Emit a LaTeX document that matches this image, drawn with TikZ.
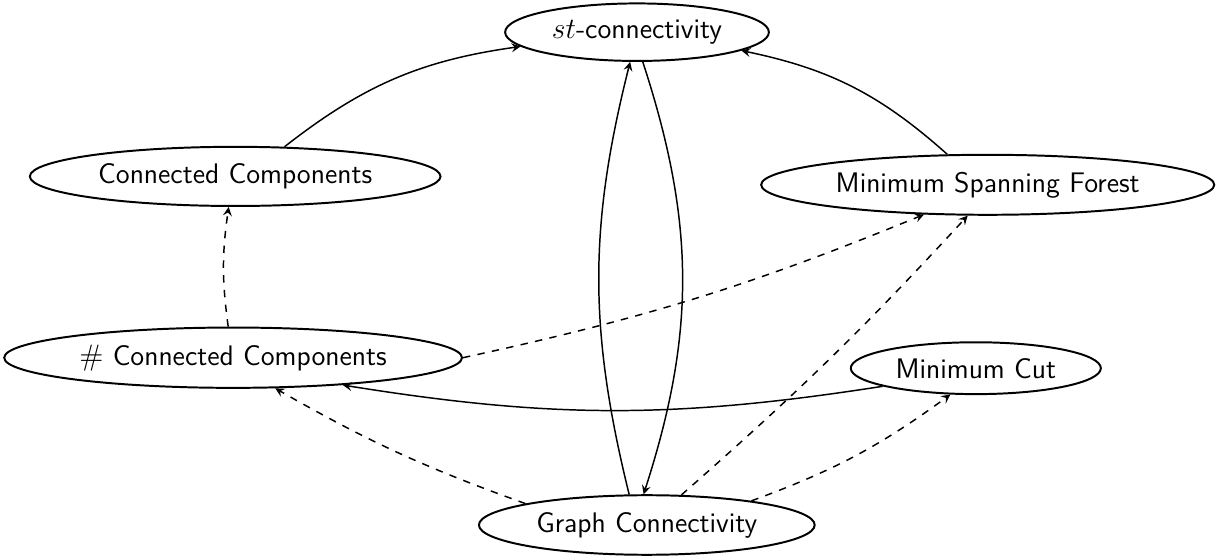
\documentclass[tikz,border=0pt]{standalone}
\usepackage{amsmath}
\usepackage{amssymb}
\usepackage{xcolor}
\usepackage{tikz}
\usetikzlibrary{shapes.geometric,arrows}

\begin{document}
\begin{tikzpicture}[
        prob/.style={draw, ellipse, thick, font=\sffamily\fontsize{11.5}{14}\selectfont},
        red/.style={-stealth, semithick},
        redd/.style={-stealth, semithick, dashed}]
                  \useasboundingbox (0, 0) rectangle (17.5, 8);

                  \node[prob] (st) at (9.10, 7.54) {$st$-connectivity};
                  \node[prob] (cc) at (3.36, 5.48) {Connected Components};
                  \node[prob] (msf) at (14.11, 5.36) {Minimum Spanning Forest};
                  \node[prob] (ncc) at (3.33, 2.89) {$\#$ Connected Components};
                  \node[prob] (mc) at (13.94, 2.74) {Minimum Cut};
                  \node[prob] (gc) at (9.24, 0.5) {Graph Connectivity};

                  \draw[red] (cc.31) to[bend left=15] (st.187);
                  \draw[red] (msf.143) to[bend right=15] (st.350);
                  \draw[red] (gc.120) to[bend left=14] (st.257);
                  \draw[red] (st.281) to[bend left=18] (gc.96);
                  \draw[red] (mc.191) to[bend left=9] (ncc.346);

                  \draw[redd] (ncc.99) to[bend left=8] (cc.258);
                  \draw[redd] (ncc.0) to[bend right=5] (msf.205);
                  \draw[redd] (gc.170) to[bend left=5] (ncc.324);
                  \draw[redd] (gc.41) to[bend right=3] (msf.237);
                  \draw[redd] (gc.13) to[bend right=8] (mc.226);
              \end{tikzpicture}
\end{document}
